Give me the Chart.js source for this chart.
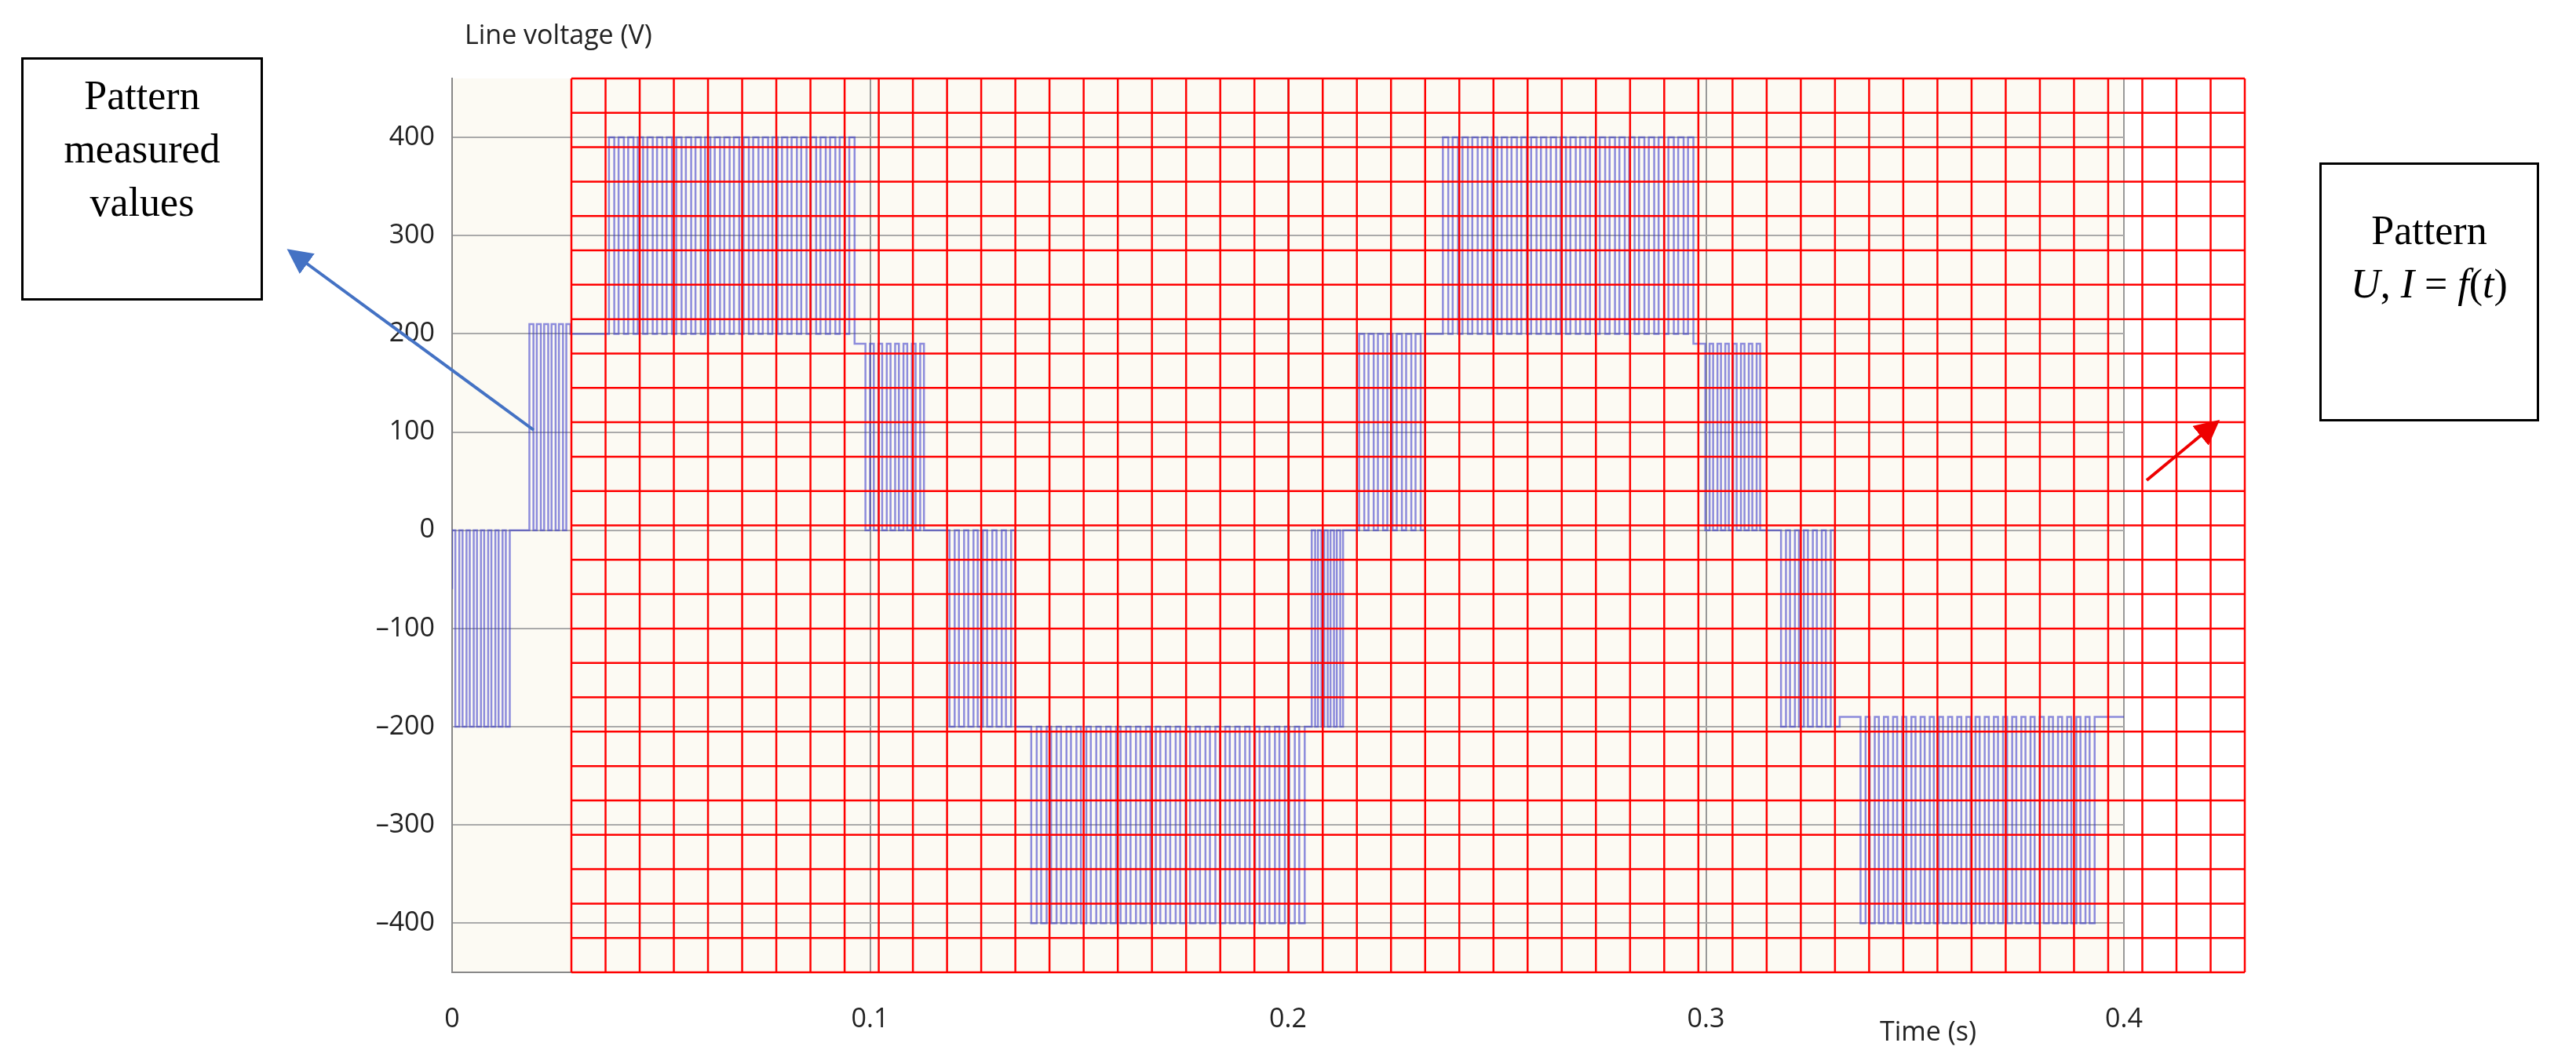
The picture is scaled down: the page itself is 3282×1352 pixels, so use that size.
<!DOCTYPE html>
<html><head><meta charset="utf-8">
<script src="https://cdn.jsdelivr.net/npm/chart.js@4/dist/chart.umd.min.js"></script>
<style>html,body{margin:0;padding:0;background:#fff}#w{position:relative;width:3282px;height:1352px}
.box{position:absolute;border:3px solid #000;background:#fff;font-family:"Liberation Serif",serif;font-size:52px;text-align:center;box-sizing:border-box;line-height:68px}
.lbl{position:absolute;font-family:"Open Sans",sans-serif;font-size:34px;color:#222}</style>
</head><body><div id="w"><canvas id="c" width="3282" height="1352"></canvas>
<div class="lbl" style="left:592px;top:20px">Line voltage (V)</div>
<div class="lbl" style="left:2395px;top:1290px">Time (s)</div>
<div class="box" style="left:27px;top:73px;width:308px;height:310px;padding-top:12px">Pattern<br>measured<br>values</div>
<div class="box" style="left:2955px;top:207px;width:280px;height:330px;padding-top:50px">Pattern<br><i>U</i>, <i>I</i> = <i>f</i>(<i>t</i>)</div>
<svg style="position:absolute;left:0;top:0" width="3282" height="1352">
<defs><marker id="ab" markerWidth="8" markerHeight="8" refX="6" refY="4" orient="auto"><path d="M0,0 L8,4 L0,8z" fill="#4472c4"/></marker>
<marker id="ar" markerWidth="8" markerHeight="8" refX="6" refY="4" orient="auto"><path d="M0,0 L8,4 L0,8z" fill="#e00"/></marker></defs>
<line x1="680" y1="548" x2="372" y2="322" stroke="#4472c4" stroke-width="4" marker-end="url(#ab)"/>
<line x1="2735" y1="612" x2="2822" y2="540" stroke="#e00" stroke-width="4" marker-end="url(#ar)"/>
</svg></div>
<script>
const xTicks=[0,0.1,0.2,0.3,0.4];
const yTicks=[-400,-300,-200,-100,0,100,200,300,400];
const bandStart=[0,0.0177,0.0365,0.098,0.118,0.1375,0.205,0.216,0.236,0.299,0.317,0.336];
const bandEnd=[0.0138,0.0283,0.0963,0.114,0.136,0.204,0.214,0.234,0.297,0.314,0.332,0.393];
const bandBase=[0,0,200,190,0,-200,-200,0,200,190,0,-190];
const bandPeak=[-200,210,400,0,-200,-400,0,200,400,0,-200,-400];
const bandPulses=[8,6,26,8,8,28,6,8,26,8,7,26];
const endLevel=-190;
const pts=[{x:0,y:-60}];
for(let b=0;b<bandStart.length;b++){
  const n=bandPulses[b],w=(bandEnd[b]-bandStart[b])/n;
  for(let i=0;i<n;i++){const t=bandStart[b]+i*w;pts.push({x:t,y:bandBase[b]});pts.push({x:t+w*0.45,y:bandPeak[b]});}
  pts.push({x:bandEnd[b],y:b+1<bandStart.length?bandBase[b+1]:endLevel});
}
pts.push({x:0.4,y:endLevel});
const redGrid={id:'rg',afterDraw(c){const g=c.ctx;g.save();g.strokeStyle='#f00';g.lineWidth=2.5;
 const x0=728,x1=2860,y0=100,y1=1239,nc=49,nr=26;
 for(let i=0;i<=nc;i++){const x=x0+(x1-x0)*i/nc;g.beginPath();g.moveTo(x,y0);g.lineTo(x,y1);g.stroke();}
 for(let j=0;j<=nr;j++){const y=y0+(y1-y0)*j/nr;g.beginPath();g.moveTo(x0,y);g.lineTo(x1,y);g.stroke();}
 g.restore();}};
const bg={id:'bg',beforeDraw(c){const a=c.chartArea,g=c.ctx;g.fillStyle='#fcfaf3';g.fillRect(a.left,a.top,a.right-a.left,a.bottom-a.top);}};
new Chart(document.getElementById('c'),{type:'line',
data:{datasets:[{data:pts,stepped:true,borderColor:'rgba(50,50,200,0.55)',borderWidth:2.5,pointRadius:0}]},
options:{responsive:false,animation:false,layout:{padding:{left:470,right:576,top:100,bottom:0}},
plugins:{legend:{display:false},tooltip:{enabled:false}},
scales:{x:{type:'linear',min:0,max:0.4,afterBuildTicks(a){a.ticks=xTicks.map(v=>({value:v}))},
  afterFit(a){a.height=113},
  ticks:{font:{family:'Open Sans',size:34},color:'#222',padding:40,callback:v=>String(v)},
  grid:{color:'#999',lineWidth:2,drawTicks:false},border:{color:'#888',width:2}},
 y:{min:-450,max:460,afterBuildTicks(a){a.ticks=yTicks.map(v=>({value:v}))},
  afterFit(a){a.width=106},
  ticks:{font:{family:'Open Sans',size:34},color:'#222',padding:22,callback:v=>String(v).replace('-','\u2013')},
  grid:{color:'#aaa',lineWidth:2,drawTicks:false},border:{color:'#888',width:2}}}},
plugins:[bg,redGrid]});
</script></body></html>
